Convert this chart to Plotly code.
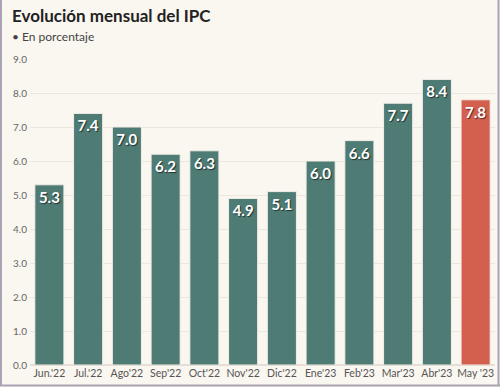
import plotly.graph_objects as go

categories = ["Jun.'22", "Jul.'22", "Ago'22", "Sep'22", "Oct'22", "Nov'22", "Dic'22",
              "Ene'23", "Feb'23", "Mar'23", "Abr'23", "May '23"]
values = [5.3, 7.4, 7.0, 6.2, 6.3, 4.9, 5.1, 6.0, 6.6, 7.7, 8.4, 7.8]
tick_vals = [0, 1, 2, 3, 4, 5, 6, 7, 8, 9]

TEAL = "#4E7B74"
RED = "#D35F4F"
BG = "#FAF6F0"
colors = [TEAL] * (len(values) - 1) + [RED]

W, H = 500, 387
L, R, T, B = 30, 5, 59, 22
pw, ph = W - L - R, H - T - B

fig = go.Figure(go.Bar(
    x=categories, y=values,
    marker=dict(color=colors, line=dict(color="#F3EEE8", width=1)),
    text=[f"{v:.1f}" for v in values],
    textposition="inside", insidetextanchor="end",
    textfont=dict(family="Lato", size=15, color="white", weight="bold",
                  shadow="1px 1px 1px rgba(0,0,0,0.6)"),
    textangle=0, cliponaxis=False,
))

fig.update_layout(
    width=W, height=H,
    margin=dict(l=L, r=R, t=T, b=B),
    paper_bgcolor=BG, plot_bgcolor=BG,
    bargap=0.25, showlegend=False,
    font=dict(family="Lato", color="#555"),
    uniformtext=dict(minsize=10, mode="show"),
)
fig.update_xaxes(showgrid=False, tickfont=dict(size=10.5, color="#555"),
                 ticks="", showline=False)
fig.update_yaxes(range=[0, 9], tickvals=tick_vals,
                 ticktext=[f"{v:.1f}" for v in tick_vals],
                 tickfont=dict(size=10, color="#666"),
                 showgrid=True, gridcolor="#ECE6DE", gridwidth=1,
                 zeroline=True, zerolinecolor="#E4DED6", ticklen=0, ticks="outside", tickcolor=BG)

fig.add_annotation(text="<b>Evolución mensual del IPC</b>", xref="paper", yref="paper",
                   x=(10 - L) / pw, y=1 + (T - 3) / ph, xanchor="left", yanchor="top",
                   showarrow=False, font=dict(family="Lato", size=17, color="#222"))
fig.add_annotation(text="• En porcentaje", xref="paper", yref="paper",
                   x=(10 - L) / pw, y=1 + (T - 27) / ph, xanchor="left", yanchor="top",
                   showarrow=False, font=dict(family="Lato", size=12, color="#444"))

# frame border
def px(x): return (x - L) / pw
def py(y): return 1 - (y - T) / ph
border = "#A9A3B4"
for x0, y0, x1, y1 in [(1, 0, 1, 386), (498.5, 0, 498.5, 386), (0, 385.5, 500, 385.5)]:
    fig.add_shape(type="line", xref="paper", yref="paper",
                  x0=px(x0), y0=py(y0), x1=px(x1), y1=py(y1),
                  line=dict(color=border, width=2), layer="above")

fig.write_html("out.html", config={"displayModeBar": False},
               post_script="document.body.style.margin='0';document.body.style.overflow='hidden';")
